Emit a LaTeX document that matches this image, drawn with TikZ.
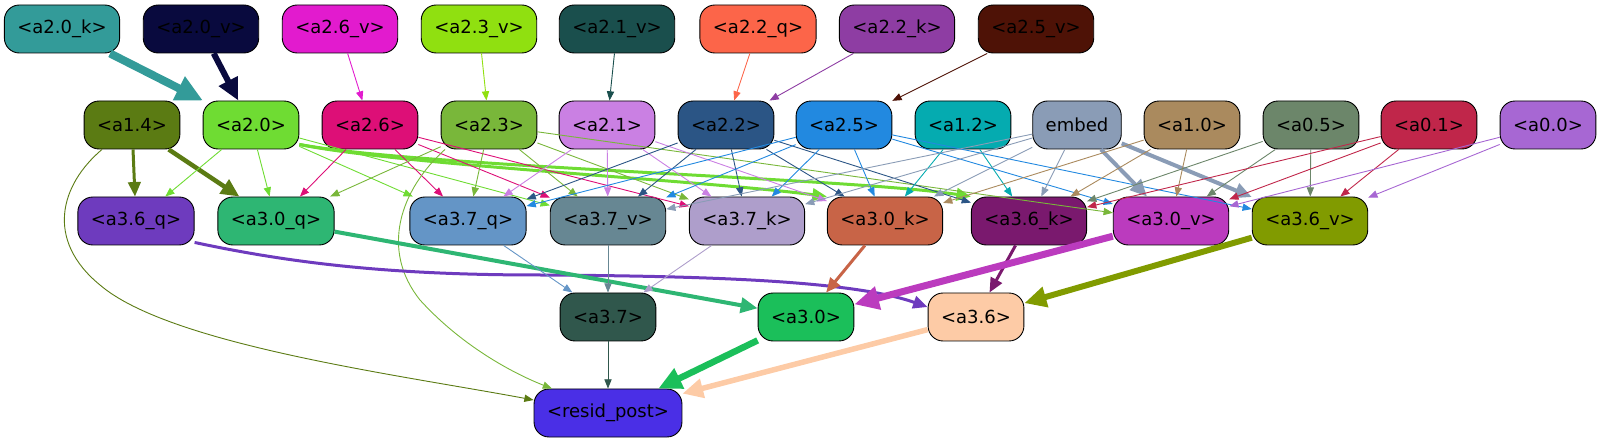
\documentclass[tikz,border=0pt]{standalone}
\usepackage{fontspec}
\setmainfont{DejaVu Sans}
\usetikzlibrary{arrows.meta}

\definecolor{ca20k}{HTML}{339B99}
\definecolor{ca20v}{HTML}{090A3E}
\definecolor{ca26v}{HTML}{E21BCE}
\definecolor{ca23v}{HTML}{90E010}
\definecolor{ca21v}{HTML}{1A4F4D}
\definecolor{ca22q}{HTML}{FC6549}
\definecolor{ca22k}{HTML}{8E3DA3}
\definecolor{ca25v}{HTML}{4E1206}
\definecolor{ca14}{HTML}{5B7B13}
\definecolor{ca20}{HTML}{6FDC33}
\definecolor{ca26}{HTML}{DD0F77}
\definecolor{ca23}{HTML}{79B73A}
\definecolor{ca21}{HTML}{CA80E3}
\definecolor{ca22}{HTML}{2B5585}
\definecolor{ca25}{HTML}{2289E0}
\definecolor{ca12}{HTML}{05ABB0}
\definecolor{cemb}{HTML}{8A9CB6}
\definecolor{ca10}{HTML}{AA8A5E}
\definecolor{ca05}{HTML}{6C866A}
\definecolor{ca01}{HTML}{C0264A}
\definecolor{ca00}{HTML}{A767D3}
\definecolor{ca36q}{HTML}{6E3BBE}
\definecolor{ca30q}{HTML}{2EB673}
\definecolor{ca37q}{HTML}{6495C6}
\definecolor{ca37v}{HTML}{678793}
\definecolor{ca37k}{HTML}{AE9ECB}
\definecolor{ca30k}{HTML}{C86447}
\definecolor{ca36k}{HTML}{7A196E}
\definecolor{ca30v}{HTML}{BB3BBE}
\definecolor{ca36v}{HTML}{819B00}
\definecolor{ca37}{HTML}{30574C}
\definecolor{ca30}{HTML}{1BBF5A}
\definecolor{ca36}{HTML}{FDCBA6}
\definecolor{cres}{HTML}{4A2FE6}

\begin{document}
\begin{tikzpicture}[x=1pt, y=-1pt,
    box/.style={draw=black, line width=0.9pt, rounded corners=15pt,
      minimum height=48pt, inner xsep=13pt, font=\fontsize{18}{21}\selectfont},
    edge/.style={line width=0.9pt, -{Triangle[length=7pt 2.5, width=5pt 2.5]}},
    fat/.style={edge, line width=#1}]
    \useasboundingbox (0,0) rectangle (1601,443);

    %% top row
    \node (a20k) [box, fill=ca20k] at (62,29) {<a2.0\_k>};
    \node (a20v) [box, fill=ca20v] at (201,29) {<a2.0\_v>};
    \node (a26v) [box, fill=ca26v] at (340,29) {<a2.6\_v>};
    \node (a23v) [box, fill=ca23v] at (479,29) {<a2.3\_v>};
    \node (a21v) [box, fill=ca21v] at (617,29) {<a2.1\_v>};
    \node (a22q) [box, fill=ca22q] at (758,29) {<a2.2\_q>};
    \node (a22k) [box, fill=ca22k] at (897,29) {<a2.2\_k>};
    \node (a25v) [box, fill=ca25v] at (1036,29) {<a2.5\_v>};

    %% second row
    \node (a14) [box, fill=ca14] at (132,125) {<a1.4>};
    \node (a20) [box, fill=ca20] at (251,125) {<a2.0>};
    \node (a26) [box, fill=ca26] at (370,125) {<a2.6>};
    \node (a23) [box, fill=ca23] at (489,125) {<a2.3>};
    \node (a21) [box, fill=ca21] at (607,125) {<a2.1>};
    \node (a22) [box, fill=ca22] at (726,125) {<a2.2>};
    \node (a25) [box, fill=ca25] at (844,125) {<a2.5>};
    \node (a12) [box, fill=ca12] at (963,125) {<a1.2>};
    \node (emb) [box, fill=cemb] at (1077,125) {embed};
    \node (a10) [box, fill=ca10] at (1192,125) {<a1.0>};
    \node (a05) [box, fill=ca05] at (1311,125) {<a0.5>};
    \node (a01) [box, fill=ca01] at (1429,125) {<a0.1>};
    \node (a00) [box, fill=ca00] at (1548,125) {<a0.0>};

    %% third row
    \node (a36q) [box, fill=ca36q] at (136,221) {<a3.6\_q>};
    \node (a30q) [box, fill=ca30q] at (276,221) {<a3.0\_q>};
    \node (a37q) [box, fill=ca37q] at (468,221) {<a3.7\_q>};
    \node (a37v) [box, fill=ca37v] at (608,221) {<a3.7\_v>};
    \node (a37k) [box, fill=ca37k] at (747,221) {<a3.7\_k>};
    \node (a30k) [box, fill=ca30k] at (885,221) {<a3.0\_k>};
    \node (a36k) [box, fill=ca36k] at (1029,221) {<a3.6\_k>};
    \node (a30v) [box, fill=ca30v] at (1171,221) {<a3.0\_v>};
    \node (a36v) [box, fill=ca36v] at (1310,221) {<a3.6\_v>};

    %% fourth row and output
    \node (a37) [box, fill=ca37] at (608,317) {<a3.7>};
    \node (a30) [box, fill=ca30] at (806,317) {<a3.0>};
    \node (a36) [box, fill=ca36] at (976,317) {<a3.6>};
    \node (res) [box, fill=cres] at (608,413) {<resid\_post>};

    %% top row into second row
    \draw [fat=8pt, ca20k] (a20k) -- (a20);
    \draw [fat=6pt, ca20v] (a20v) -- (a20);
    \draw [edge, ca26v] (a26v) -- (a26);
    \draw [edge, ca23v] (a23v) -- (a23);
    \draw [edge, ca21v] (a21v) -- (a21);
    \draw [edge, ca22q] (a22q) -- (a22);
    \draw [edge, ca22k] (a22k) -- (a22);
    \draw [edge, ca25v] (a25v) -- (a25);

    %% second row into third row
    \draw [fat=3pt, ca14] (a14) -- (a36q);
    \draw [fat=4.5pt, ca14] (a14) -- (a30q);
    \draw [edge, ca14] ([xshift=-30pt]a14.south) .. controls (60,185) and (45,240) .. (100,285)
        .. controls (170,345) and (400,375) .. ([yshift=13pt]res.west);

    \draw [edge, ca20] (a20) -- (a36q);
    \draw [edge, ca20] (a20) -- (a30q);
    \draw [edge, ca20] (a20) -- (a37q);
    \draw [edge, ca20] (a20) -- (a37v);
    \draw [fat=3pt, ca20] ([yshift=5pt]a20.south east) .. controls (400,165) and (700,180) .. (a30k.north west);
    \draw [fat=3pt, ca20] ([yshift=5pt]a20.south east) .. controls (420,167) and (850,178) .. (a36k.north west);

    \draw [edge, ca26] (a26) -- (a30q);
    \draw [edge, ca26] (a26) -- (a37q);
    \draw [edge, ca26] (a26) -- (a37v);
    \draw [edge, ca26] (a26) -- (a37k);

    \draw [edge, ca23] (a23) -- (a30q);
    \draw [edge, ca23] (a23) -- (a37q);
    \draw [edge, ca23] (a23) -- (a37v);
    \draw [edge, ca23] (a23) -- (a37k);
    \draw [edge, ca23] (a23) -- (a30v);
    \draw [edge, ca23] ([xshift=-44pt]a23.south) .. controls (400,190) and (380,250) .. (420,300)
        .. controls (470,355) and (530,380) .. ([xshift=-56pt]res.north);

    \draw [edge, ca21] (a21) -- (a37q);
    \draw [edge, ca21] (a21) -- (a37v);
    \draw [edge, ca21] (a21) -- (a37k);
    \draw [edge, ca21] (a21) -- (a30k);

    \draw [edge, ca22] (a22) -- (a37q);
    \draw [edge, ca22] (a22) -- (a37v);
    \draw [edge, ca22] (a22) -- (a37k);
    \draw [edge, ca22] (a22) -- (a30k);
    \draw [edge, ca22] (a22) -- (a36k);

    \draw [edge, ca25] (a25) -- (a37q);
    \draw [edge, ca25] (a25) -- (a37v);
    \draw [edge, ca25] (a25) -- (a37k);
    \draw [edge, ca25] (a25) -- (a30k);
    \draw [edge, ca25] (a25) -- (a30v);
    \draw [edge, ca25] (a25) -- (a36v);

    \draw [edge, ca12] (a12) -- (a30k);
    \draw [edge, ca12] (a12) -- (a36k);

    \draw [edge, cemb] (emb) -- (a37v);
    \draw [edge, cemb] (emb) -- (a37k);
    \draw [edge, cemb] (emb) -- (a30k);
    \draw [edge, cemb] (emb) -- (a36k);
    \draw [fat=4pt, cemb] (emb) -- (a30v);
    \draw [fat=4pt, cemb] (emb) -- (a36v);

    \draw [edge, ca10] (a10) -- (a30k);
    \draw [edge, ca10] (a10) -- (a36k);
    \draw [edge, ca10] (a10) -- (a30v);

    \draw [edge, ca05] (a05) -- (a36k);
    \draw [edge, ca05] (a05) -- (a30v);
    \draw [edge, ca05] (a05) -- (a36v);

    \draw [edge, ca01] (a01) -- (a36k);
    \draw [edge, ca01] (a01) -- (a30v);
    \draw [edge, ca01] (a01) -- (a36v);

    \draw [edge, ca00] (a00) -- (a30v);
    \draw [edge, ca00] (a00) -- (a36v);

    %% third row into fourth row
    \draw [fat=3pt, ca36q] ([yshift=3pt]a36q.south east) .. controls (300,265) and (400,275) .. (540,275)
        .. controls (700,276) and (850,280) .. ([yshift=10pt]a36.west);
    \draw [fat=4pt, ca30q] (a30q) -- (a30);
    \draw [edge, ca37q] (a37q) -- (a37);
    \draw [edge, ca37v] (a37v) -- (a37);
    \draw [edge, ca37k] (a37k) -- (a37);
    \draw [fat=3pt, ca30k] (a30k) -- (a30);
    \draw [fat=3pt, ca36k] (a36k) -- (a36);
    \draw [fat=7pt, ca30v] (a30v) -- (a30);
    \draw [fat=6pt, ca36v] (a36v) -- (a36);

    %% into the output
    \draw [edge, ca37] (a37) -- (res);
    \draw [fat=6.5pt, ca30] (a30) -- (res);
    \draw [fat=5.5pt, ca36] (a36) -- (res);
\end{tikzpicture}
\end{document}
